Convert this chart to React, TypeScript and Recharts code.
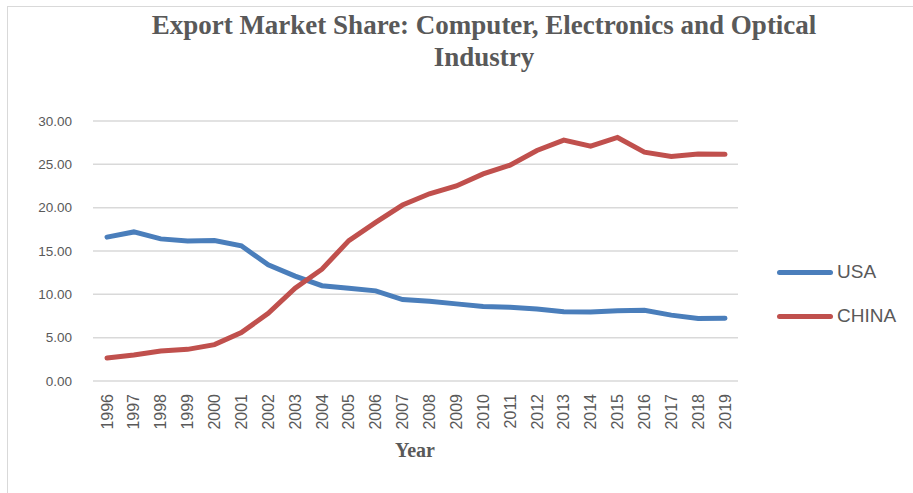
import { LineChart, Line, XAxis, YAxis, CartesianGrid } from 'recharts'

const years = [
  '1996', '1997', '1998', '1999', '2000', '2001', '2002', '2003', '2004', '2005', '2006', '2007',
  '2008', '2009', '2010', '2011', '2012', '2013', '2014', '2015', '2016', '2017', '2018', '2019',
]
const usa = [
  16.6, 17.2, 16.4, 16.15, 16.2, 15.6, 13.4, 12.1, 11.0, 10.7, 10.4, 9.4,
  9.2, 8.9, 8.6, 8.5, 8.3, 8.0, 7.95, 8.1, 8.15, 7.6, 7.2, 7.25,
]
const china = [
  2.65, 3.0, 3.45, 3.65, 4.2, 5.6, 7.8, 10.7, 12.9, 16.2, 18.3, 20.3,
  21.6, 22.5, 23.9, 24.9, 26.6, 27.8, 27.1, 28.1, 26.4, 25.9, 26.2, 26.15,
]
const yTicks = [0, 5, 10, 15, 20, 25, 30]

const data = years.map((year, i) => ({ year, usa: usa[i], china: china[i] }))

const BLUE = '#4a7ebb'
const RED = '#c0504d'
const TEXT = '#595959'

function YTick({ x, y, payload }: any) {
  return (
    <text x={x} y={y} dy="0.35em" textAnchor="end" fill={TEXT} fontSize={13.5} fontFamily="Liberation Sans, Arial, sans-serif">
      {Number(payload.value).toFixed(2)}
    </text>
  )
}

function XTick({ x, y, payload }: any) {
  return (
    <text
      x={x}
      y={y}
      transform={`rotate(-90 ${x} ${y})`}
      dy="0.35em"
      textAnchor="end"
      fill={TEXT}
      fontSize={16}
      fontFamily="Liberation Sans, Arial, sans-serif"
    >
      {payload.value}
    </text>
  )
}

const legendItems = [
  { name: 'USA', color: BLUE, top: 261 },
  { name: 'CHINA', color: RED, top: 305 },
]

export default function App() {
  return (
    <div style={{ position: 'absolute', left: 0, top: 0, width: 913, height: 493, background: '#fff', overflow: 'hidden' }}>
      <div style={{ position: 'absolute', left: 7, top: 6, width: 920, height: 500, border: '1px solid #d9d9d9' }} />
      <div
        style={{
          position: 'absolute',
          left: 60,
          width: 848,
          top: 9,
          textAlign: 'center',
          fontFamily: 'Liberation Serif, Times New Roman, serif',
          fontWeight: 'bold',
          fontSize: 27,
          lineHeight: '32px',
          color: TEXT,
        }}
      >
        Export Market Share: Computer, Electronics and Optical
        <br />
        Industry
      </div>
      <LineChart
        width={913}
        height={493}
        data={data}
        margin={{ top: 121, right: 175, bottom: 52, left: 33 }}
        style={{ position: 'absolute', left: 0, top: 0 }}
      >
        <CartesianGrid vertical={false} stroke="#d9d9d9" strokeWidth={1.5} />
        <XAxis
          dataKey="year"
          height={60}
          padding={{ left: 14, right: 13 }}
          axisLine={false}
          tickLine={false}
          interval={0}
          tick={<XTick />}
          tickMargin={7}
        />
        <YAxis
          width={60}
          domain={[0, 30]}
          ticks={yTicks}
          axisLine={false}
          tickLine={false}
          tick={<YTick />}
          tickMargin={15}
        />
        <Line type="linear" dataKey="usa" stroke={BLUE} strokeWidth={5} dot={false} strokeLinecap="round" isAnimationActive={false} />
        <Line type="linear" dataKey="china" stroke={RED} strokeWidth={5} dot={false} strokeLinecap="round" isAnimationActive={false} />
      </LineChart>
      <div
        style={{
          position: 'absolute',
          left: 385,
          width: 60,
          top: 439,
          textAlign: 'center',
          fontFamily: 'Liberation Serif, Times New Roman, serif',
          fontWeight: 'bold',
          fontSize: 20,
          color: TEXT,
        }}
      >
        Year
      </div>
      {legendItems.map((item) => (
        <div
          key={item.name}
          style={{
            position: 'absolute',
            left: 777,
            top: item.top,
            display: 'flex',
            alignItems: 'center',
            fontFamily: 'Liberation Sans, Arial, sans-serif',
            fontSize: 19,
            color: TEXT,
          }}
        >
          <span style={{ display: 'inline-block', width: 56, height: 5, borderRadius: 3, background: item.color, marginRight: 4 }} />
          {item.name}
        </div>
      ))}
    </div>
  )
}
